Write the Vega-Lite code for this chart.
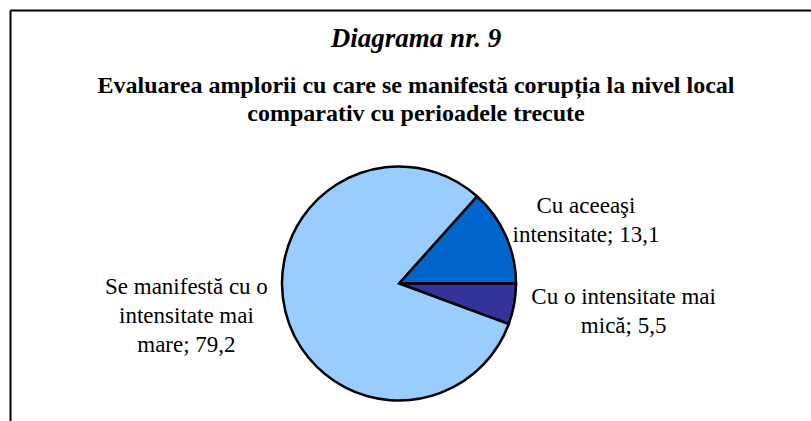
{
  "$schema": "https://vega.github.io/schema/vega-lite/v6.json",
  "autosize": {"type": "none"},
  "padding": {"left": 10, "top": 10, "right": 30, "bottom": 0},
  "width": 778,
  "height": 547,
  "background": "white",
  "config": {
    "view": {"stroke": null},
    "text": {"font": "Liberation Serif"}
  },
  "title": {
    "text": "Diagrama nr. 9",
    "subtitle": ["Evaluarea amplorii cu care se manifestă corupția la nivel local", "comparativ cu perioadele trecute"],
    "frame": "group",
    "anchor": "middle",
    "dx": 17,
    "offset": -117,
    "font": "Liberation Serif",
    "fontStyle": "italic",
    "fontWeight": "bold",
    "fontSize": 27,
    "color": "black",
    "subtitleFont": "Liberation Serif",
    "subtitleFontWeight": "bold",
    "subtitleFontSize": 24,
    "subtitleLineHeight": 28,
    "subtitlePadding": 21,
    "subtitleColor": "black"
  },
  "data": {
    "values": [
      {"categorie": "Cu aceeaşi intensitate", "valoare": 13.1, "eticheta": "Cu aceeaşi\nintensitate; 13,1"},
      {"categorie": "Cu o intensitate mai mică", "valoare": 5.5, "eticheta": "Cu o intensitate mai\nmică; 5,5"},
      {"categorie": "Se manifestă cu o intensitate mai mare", "valoare": 79.2, "eticheta": "Se manifestă cu o\nintensitate mai\nmare; 79,2"}
    ]
  },
  "layer": [
    {
      "mark": {"type": "point", "opacity": 0},
      "encoding": {
        "x": {"field": "valoare", "type": "quantitative", "scale": {"range": [0, 805]}, "axis": {"orient": "top", "domain": true, "domainColor": "black", "domainWidth": 2, "ticks": false, "labels": false, "grid": false, "title": null}},
        "y": {"field": "valoare", "type": "quantitative", "axis": {"orient": "left", "domain": true, "domainColor": "black", "domainWidth": 2, "ticks": false, "labels": false, "grid": false, "title": null}}
      }
    },
    {
      "mark": {"type": "arc", "outerRadius": 117, "stroke": "black", "strokeWidth": 2.5},
      "encoding": {
        "theta": {"field": "valoare", "type": "quantitative", "stack": true, "scale": {"range": [0.7296, 7.0128]}},
        "color": {
          "field": "categorie",
          "type": "nominal",
          "scale": {
            "domain": ["Cu aceeaşi intensitate", "Cu o intensitate mai mică", "Se manifestă cu o intensitate mai mare"],
            "range": ["#0066CC", "#333399", "#99CCFF"]
          },
          "legend": null
        }
      }
    },
    {
      "mark": {"type": "text", "fontSize": 23, "lineHeight": 29, "lineBreak": "\n", "align": "center", "baseline": "middle", "dx": 50, "dy": -16, "color": "black"},
      "encoding": {
        "theta": {"field": "valoare", "type": "quantitative", "stack": true},
        "radius": {"value": 150},
        "detail": {"field": "categorie", "type": "nominal"},
        "text": {"condition": {"test": "datum.categorie === 'Cu aceeaşi intensitate'", "field": "eticheta"}, "value": ""}
      }
    },
    {
      "mark": {"type": "text", "fontSize": 23, "lineHeight": 29, "lineBreak": "\n", "align": "center", "baseline": "middle", "dx": 77, "dy": -13, "color": "black"},
      "encoding": {
        "theta": {"field": "valoare", "type": "quantitative", "stack": true},
        "radius": {"value": 150},
        "detail": {"field": "categorie", "type": "nominal"},
        "text": {"condition": {"test": "datum.categorie === 'Cu o intensitate mai mică'", "field": "eticheta"}, "value": ""}
      }
    },
    {
      "mark": {"type": "text", "fontSize": 23, "lineHeight": 29, "lineBreak": "\n", "align": "center", "baseline": "middle", "dx": -67, "dy": -33, "color": "black"},
      "encoding": {
        "theta": {"field": "valoare", "type": "quantitative", "stack": true},
        "radius": {"value": 150},
        "detail": {"field": "categorie", "type": "nominal"},
        "text": {"condition": {"test": "datum.categorie === 'Se manifestă cu o intensitate mai mare'", "field": "eticheta"}, "value": ""}
      }
    }
  ]
}
